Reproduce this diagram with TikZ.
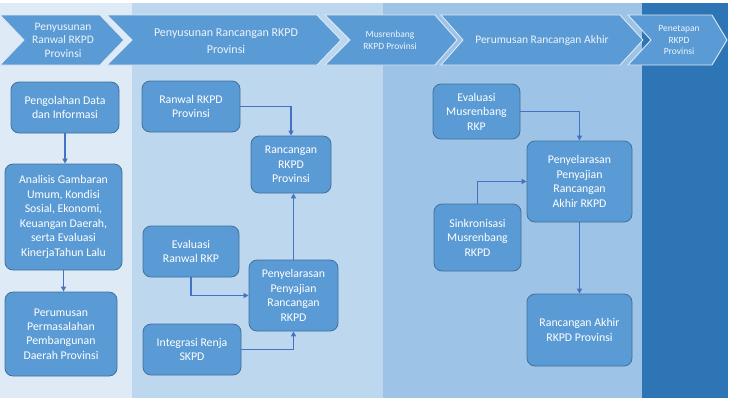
\documentclass[tikz,border=0pt]{standalone}
\usepackage{fontspec}
\setmainfont{Carlito}
\usetikzlibrary{arrows.meta}
\definecolor{colA}{HTML}{DEEBF7}
\definecolor{colB}{HTML}{BDD7EE}
\definecolor{colC}{HTML}{9DC3E6}
\definecolor{colD}{HTML}{2E75B6}
\definecolor{boxfill}{HTML}{5B9BD5}
\definecolor{boxline}{HTML}{41719C}
\definecolor{arrowc}{HTML}{4472C4}
\definecolor{chevline}{HTML}{DCE9F6}
\definecolor{chevtext}{HTML}{EEF4FB}
\tikzset{
  box/.style={draw=boxline, line width=0.8pt, fill=boxfill, rounded corners=8pt,
    text=white, align=center, inner sep=0pt,
    font=\fontsize{11.8}{14.5}\selectfont},
  flow/.style={draw=arrowc, line width=1.4pt, -{Triangle[length=5pt,width=5pt]}},
  chev/.style={fill=boxfill, draw=chevline, line width=0.9pt},
  chevlabel/.style={text=chevtext, align=center, inner sep=0pt}
}
\begin{document}
\begin{tikzpicture}[x=1pt,y=-1pt]
\useasboundingbox (0,0) rectangle (734,400);
% background columns
\fill[white] (0,0) rectangle (734,400);
\fill[colA] (0,3) rectangle (132,398);
\fill[colB] (132,3) rectangle (383,398);
\fill[colC] (383,3) rectangle (642,398);
\fill[colD] (642,3) rectangle (728,398);
% chevrons
\draw[chev] (0,15) -- (100,15) -- (124,40) -- (100,65) -- (0,65) -- (24,40) -- cycle;
\draw[chev] (107,15) -- (317,15) -- (341,40) -- (317,65) -- (107,65) -- (132,40) -- cycle;
\draw[chev] (325,15) -- (435,15) -- (457,40) -- (435,65) -- (325,65) -- (350,40) -- cycle;
\draw[chev] (441,15) -- (620,15) -- (643,40) -- (620,65) -- (441,65) -- (463,40) -- cycle;
\draw[chev] (628,15) -- (712,15) -- (727,40) -- (712,65) -- (628,65) -- (651,40) -- cycle;
\node[chevlabel, font=\fontsize{11.5}{13.5}\selectfont] (c1) at (63,40) {Penyusunan\\Ranwal RKPD\\Provinsi};
\node[chevlabel, font=\fontsize{12}{16.5}\selectfont] (c2) at (226,41) {Penyusunan Rancangan RKPD\\Provinsi};
\node[chevlabel, font=\fontsize{9.5}{12}\selectfont] (c3) at (390,40) {Musrenbang\\RKPD Provinsi};
\node[chevlabel, font=\fontsize{11.5}{14}\selectfont] (c4) at (542,40) {Perumusan Rancangan Akhir};
\node[chevlabel, font=\fontsize{9.5}{11.5}\selectfont] (c5) at (679,40) {Penetapan\\RKPD\\Provinsi};
% boxes column 1
\node[box, minimum width=108pt, minimum height=51pt] (pd) at (65,107.5) {Pengolahan Data\\dan Informasi};
\node[box, minimum width=117pt, minimum height=106pt] (ag) at (63.5,217) {Analisis Gambaran\\Umum, Kondisi\\Sosial, Ekonomi,\\Keuangan Daerah,\\serta Evaluasi\\KinerjaTahun Lalu};
\node[box, minimum width=112pt, minimum height=84pt] (pp) at (61,334) {Perumusan\\Permasalahan\\Pembangunan\\Daerah Provinsi};
% boxes column 2
\node[box, minimum width=98pt, minimum height=51pt] (rw) at (191,106.5) {Ranwal RKPD\\Provinsi};
\node[box, minimum width=80pt, minimum height=57pt] (rr) at (291,164.5) {Rancangan\\RKPD\\Provinsi};
\node[box, minimum width=96pt, minimum height=51pt] (er) at (191,251.5) {Evaluasi\\Ranwal RKP};
\node[box, minimum width=89pt, minimum height=71pt] (ps) at (293.5,295.5) {Penyelarasan\\Penyajian\\Rancangan\\RKPD};
\node[box, minimum width=98pt, minimum height=51pt] (ir) at (192,349.5) {Integrasi Renja\\SKPD};
% boxes column 3
\node[box, minimum width=87pt, minimum height=55pt] (em) at (476.5,111.5) {Evaluasi\\Musrenbang\\RKP};
\node[box, minimum width=105pt, minimum height=81pt] (pa) at (579.5,181.5) {Penyelarasan\\Penyajian\\Rancangan\\Akhir RKPD};
\node[box, minimum width=87pt, minimum height=67pt] (sm) at (477.5,237.5) {Sinkronisasi\\Musrenbang\\RKPD};
\node[box, minimum width=105pt, minimum height=72pt] (ra) at (579.5,330) {Rancangan Akhir\\RKPD Provinsi};
% connectors
\draw[flow] (pd.south) -- (pd.south |- ag.north);
\draw[flow] (ag.south) -- (ag.south |- pp.north);
\draw[flow] (rw.east) -| (rr.north);
\draw[flow] (ps.north) -- (ps.north |- rr.south);
\draw[flow] (er.south) |- (ps.west);
\draw[flow] (ir.east) -| (ps.south);
\draw[flow] (em.east) -| (pa.north);
\draw[flow] (sm.north) |- (pa.west);
\draw[flow] (pa.south) -- (pa.south |- ra.north);
\end{tikzpicture}
\end{document}
